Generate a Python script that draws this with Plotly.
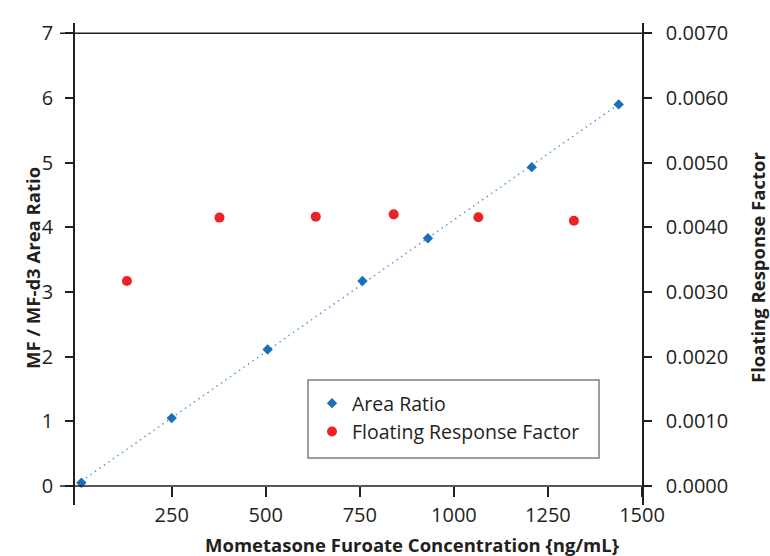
import numpy as np
import plotly.graph_objects as go

# ---- data ----
conc_area = [10, 250, 505, 757, 931, 1207, 1438]
area_ratio = [0.05, 1.05, 2.11, 3.17, 3.83, 4.93, 5.90]
conc_frf = [131, 377, 633, 840, 1065, 1319]
frf = [0.00317, 0.00415, 0.004165, 0.0042, 0.004155, 0.0041]
x_ticks = [250, 500, 750, 1000, 1250, 1500]
y_ticks = [0, 1, 2, 3, 4, 5, 6, 7]
y2_ticks = [0, 0.001, 0.002, 0.003, 0.004, 0.005, 0.006, 0.007]

FONT = "Open Sans"
TXT = "#231f20"
W, H = 770, 556
ML, MR, MT, MB = 75, 128, 23, 51
PW, PH = W - ML - MR, H - MT - MB
Y0_PX = 486  # pixel row of y = 0


def px_x(p):
    return (p - ML) / PW


def px_y(p):
    return (H - MB - p) / PH


# linear trendline of the area ratio
slope, icpt = np.polyfit(conc_area, area_ratio, 1)
tx = [min(conc_area), max(conc_area)]
ty = [slope * v + icpt for v in tx]

fig = go.Figure()
fig.add_trace(go.Scatter(x=tx, y=ty, mode="lines", showlegend=False,
                         line=dict(color="#5b9bd5", width=1.5, dash="1.5px,4px"),
                         hoverinfo="skip"))
fig.add_trace(go.Scatter(x=conc_area, y=area_ratio, mode="markers", name="Area Ratio",
                         marker=dict(symbol="diamond", size=8, color="#1b6fba")))
fig.add_trace(go.Scatter(x=conc_frf, y=frf, mode="markers", name="Floating Response Factor",
                         yaxis="y2",
                         marker=dict(symbol="circle", size=10, color="#ec2227")))

ylo, yhi = -0.294, 7.159
fig.update_layout(
    width=W, height=H, autosize=False,
    margin=dict(l=ML, r=MR, t=MT, b=MB),
    paper_bgcolor="white", plot_bgcolor="white",
    font=dict(family=FONT, color=TXT, size=20),
    xaxis=dict(range=[-7, 1500], tickvals=x_ticks, ticks="outside", ticklen=10,
               tickwidth=1.5, tickcolor=TXT, showline=False, showgrid=False,
               zeroline=False, anchor="free", position=px_y(Y0_PX),
               ticklabelstandoff=1, automargin=False, tickfont=dict(size=20)),
    yaxis=dict(range=[ylo, yhi], tickvals=y_ticks, ticks="outside", ticklen=8,
               tickwidth=1.5, tickcolor=TXT, showline=True, linecolor=TXT, linewidth=1.5,
               showgrid=False, zeroline=False, ticklabelstandoff=8, automargin=False,
               tickfont=dict(size=20)),
    yaxis2=dict(range=[ylo * 0.001, yhi * 0.001], tickvals=y2_ticks, tickformat=".4f",
                overlaying="y", side="right", ticks="outside", ticklen=8, tickwidth=1.5,
                tickcolor=TXT, showline=True, linecolor=TXT, linewidth=1.5,
                showgrid=False, zeroline=False, ticklabelstandoff=10, automargin=False,
                tickfont=dict(size=20)),
    legend=dict(x=px_x(312), y=px_y(384), xanchor="left", yanchor="top",
                bgcolor="rgba(0,0,0,0)", borderwidth=0,
                font=dict(size=19.5)),
    showlegend=True,
    shapes=[
        dict(type="rect", xref="paper", yref="paper", x0=px_x(308), x1=px_x(599),
             y0=px_y(458), y1=px_y(380), line=dict(color="#7f7f7f", width=1.5),
             fillcolor="white", layer="below"),
        dict(type="line", xref="paper", yref="y", x0=-15 / PW, x1=1 + 8 / PW, y0=0, y1=0,
             line=dict(color=TXT, width=1.5)),
        dict(type="line", xref="paper", yref="y", x0=-15 / PW, x1=1 + 8 / PW, y0=7, y1=7,
             line=dict(color=TXT, width=1.5)),
    ],
    annotations=[
        dict(text="<b>MF / MF-d3 Area Ratio</b>", xref="paper", yref="paper",
             x=px_x(32), y=px_y(268), xanchor="center", yanchor="middle",
             textangle=-90, showarrow=False, font=dict(size=18.5)),
        dict(text="<b>Floating Response Factor</b>", xref="paper", yref="paper",
             x=px_x(757), y=px_y(268), xanchor="center", yanchor="middle",
             textangle=-90, showarrow=False, font=dict(size=18.5)),
        dict(text="<b>Mometasone Furoate Concentration {ng/mL}</b>", xref="paper",
             yref="paper", x=px_x(412), y=px_y(544), xanchor="center", yanchor="middle",
             showarrow=False, font=dict(size=18.5)),
    ],
)

fig.write_html("out.html", config={"displayModeBar": False},
               post_script="document.body.style.margin='0px';")
